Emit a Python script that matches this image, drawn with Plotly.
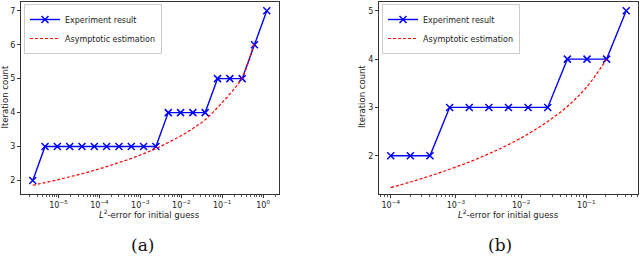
import plotly.graph_objects as go

# ---- data (a) ----
err_a = [2.35e-6, 4.69e-6, 9.38e-6, 1.88e-5, 3.75e-5, 7.51e-5, 1.50e-4, 3.00e-4,
         6.01e-4, 1.20e-3, 2.40e-3, 4.81e-3, 9.61e-3, 1.92e-2, 3.84e-2, 7.69e-2,
         0.154, 0.308, 0.615, 1.23]
iters_a = [2, 3, 3, 3, 3, 3, 3, 3, 3, 3, 3, 4, 4, 4, 4, 5, 5, 5, 6, 7]
est_err_a = err_a[:19]
est_a = [1.86, 1.94, 2.02, 2.11, 2.20, 2.30, 2.41, 2.53, 2.65, 2.79, 2.94,
         3.12, 3.31, 3.53, 3.79, 4.15, 4.55, 5.03, 6.10]

# ---- data (b) ----
err_b = [1.0e-4, 2.0e-4, 4.0e-4, 8.0e-4, 1.6e-3, 3.2e-3, 6.4e-3, 1.28e-2,
         2.56e-2, 5.12e-2, 0.1024, 0.2048, 0.4096]
iters_b = [2, 2, 2, 3, 3, 3, 3, 3, 3, 4, 4, 4, 5]
est_err_b = err_b[:12]
est_b = [1.34, 1.455, 1.58, 1.72, 1.87, 2.04, 2.23, 2.45, 2.71, 3.02, 3.43, 4.00]

# ---- tick labels ----
xt_a = [1e-5, 1e-4, 1e-3, 1e-2, 1e-1, 1e0]
xt_a_text = ["10<sup>−5</sup>", "10<sup>−4</sup>", "10<sup>−3</sup>", "10<sup>−2</sup>",
             "10<sup>−1</sup>", "10<sup>0</sup>"]
yt_a = [2, 3, 4, 5, 6, 7]
xt_b = [1e-4, 1e-3, 1e-2, 1e-1]
xt_b_text = ["10<sup>−4</sup>", "10<sup>−3</sup>", "10<sup>−2</sup>", "10<sup>−1</sup>"]
yt_b = [2, 3, 4, 5]
minor_mult = [2, 3, 4, 5, 6, 7, 8, 9]
minor_decades = [1e-7, 1e-6, 1e-5, 1e-4, 1e-3, 1e-2, 1e-1, 1e0]
minor_vals = [m * d for d in minor_decades for m in minor_mult]

BLUE = "#0000ff"
RED = "#ff0000"
FONT = "DejaVu Sans"

fig = go.Figure()

def add_panel(xa, ya, legend, err, iters, est_err, est):
    fig.add_trace(go.Scatter(
        x=err, y=iters, mode="lines+markers", name="Experiment result",
        line=dict(color=BLUE, width=1.4),
        marker=dict(symbol="x-thin", size=7, line=dict(color=BLUE, width=1.5)),
        xaxis=xa, yaxis=ya, legend=legend))
    fig.add_trace(go.Scatter(
        x=est_err, y=est, mode="lines", name="Asymptotic estimation",
        line=dict(color=RED, width=1.2, dash="3px,2px", shape="spline"),
        xaxis=xa, yaxis=ya, legend=legend))

add_panel("x", "y", "legend", err_a, iters_a, est_err_a, est_a)
add_panel("x2", "y2", "legend2", err_b, iters_b, est_err_b, est_b)

axis_common = dict(showline=True, mirror=True, linecolor="#333", linewidth=1,
                   showgrid=False, zeroline=False, ticks="outside", ticklen=3,
                   tickcolor="#333", tickfont=dict(family=FONT, size=8, color="#222"))
minor_x = dict(ticks="outside", ticklen=2, tickcolor="#555", tickmode="array",
               tickvals=minor_vals, showgrid=False)

ydom = [1 - 194 / 256, 1 - 2 / 256]
legend_common = dict(xanchor="left", yanchor="top",
                     bgcolor="rgba(255,255,255,0.85)", bordercolor="#ccc", borderwidth=1,
                     font=dict(family=FONT, size=8, color="#222"), itemwidth=30,
                     tracegroupgap=0)
fig.update_layout(
    width=640, height=256, margin=dict(l=0, r=0, t=0, b=0),
    paper_bgcolor="white", plot_bgcolor="white", showlegend=True,
    xaxis=dict(type="log", domain=[21 / 640, 278.5 / 640], range=[-5.916, 0.376],
               tickvals=xt_a, ticktext=xt_a_text, minor=minor_x, **axis_common),
    yaxis=dict(domain=ydom, range=[1.603, 7.257], tickvals=yt_a, **axis_common),
    xaxis2=dict(type="log", domain=[379 / 640, 638 / 640], range=[-4.18, -0.207],
                tickvals=xt_b, ticktext=xt_b_text, anchor="y2", minor=minor_x,
                **axis_common),
    yaxis2=dict(domain=ydom, range=[1.207, 5.183], tickvals=yt_b, anchor="x2",
                **axis_common),
    legend=dict(x=24 / 640, y=1 - 4 / 256, **legend_common),
    legend2=dict(x=382 / 640, y=1 - 4 / 256, **legend_common),
)

ann_font = dict(family=FONT, size=8.5, color="#222")
cap_font = dict(family="DejaVu Serif", size=17, color="#111")
annotations = [
    dict(text="<i>L</i><sup>2</sup>-error for initial guess", x=149.7 / 640, y=1 - 214 / 256,
         font=ann_font),
    dict(text="<i>L</i><sup>2</sup>-error for initial guess", x=508.5 / 640, y=1 - 214 / 256,
         font=ann_font),
    dict(text="Iteration count", x=4.5 / 640, y=1 - 97 / 256, textangle=-90, font=ann_font),
    dict(text="Iteration count", x=362 / 640, y=1 - 97 / 256, textangle=-90, font=ann_font),
    dict(text="(a)", x=142 / 640, y=1 - 245 / 256, font=cap_font),
    dict(text="(b)", x=500 / 640, y=1 - 245 / 256, font=cap_font),
]
for a in annotations:
    a.update(xref="paper", yref="paper", showarrow=False, xanchor="center", yanchor="middle")
fig.update_layout(annotations=annotations)

fig.write_html("out.html", config={"displayModeBar": False},
               post_script="document.body.style.margin='0';")
